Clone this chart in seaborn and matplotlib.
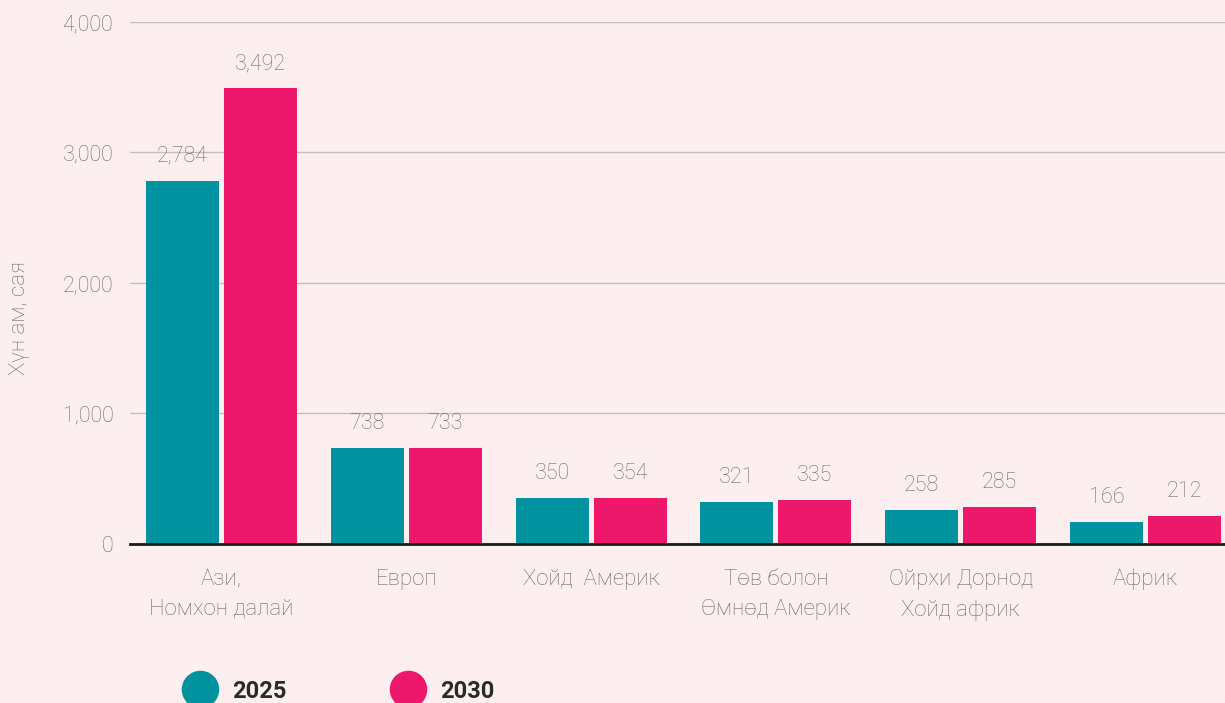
import matplotlib
matplotlib.use("Agg")
import matplotlib.pyplot as plt
import seaborn as sns
import pandas as pd
from matplotlib.lines import Line2D

categories = ["Ази,\nНомхон далай", "Европ", "Хойд  Америк",
              "Төв болон\nӨмнөд Америк", "Ойрхи Дорнод\nХойд африк", "Африк"]
values_2025 = [2784, 738, 350, 321, 258, 166]
values_2030 = [3492, 733, 354, 335, 285, 212]
years = ["2025", "2030"]
yticks = [0, 1000, 2000, 3000, 4000]

bg = "#fdeff0"
teal = "#00929f"
pink = "#ed176b"
gray = "#6c6c6c"

sns.set_theme(style="white")
plt.rcParams['font.family'] = ['Roboto', 'DejaVu Sans']

df = pd.DataFrame({
    "region": categories * 2,
    "year": [years[0]] * len(categories) + [years[1]] * len(categories),
    "value": values_2025 + values_2030,
})

fig = plt.figure(figsize=(12.25, 7.03), dpi=100, facecolor=bg)
ax = fig.add_axes([0.1061, 0.2262, 0.8939, 0.7425])
ax.set_facecolor(bg)

sns.barplot(data=df, x="region", y="value", hue="year", order=categories,
            hue_order=years, palette=[teal, pink], width=0.844, gap=0.064,
            saturation=1, legend=False, ax=ax, linewidth=0)

for cont in ax.containers:
    ax.bar_label(cont, labels=[f"{v:,.0f}" for v in cont.datavalues],
                 padding=10, fontsize=15.5, color=gray, fontweight='light')

ax.set_ylim(0, 4000)
ax.set_xlim(-0.495, 5.43)
ax.set_yticks(yticks)
ax.set_yticklabels([f"{v:,}" for v in yticks], fontsize=15.5, color=gray, fontweight='light')
ax.tick_params(axis='y', length=0, pad=12)
ax.tick_params(axis='x', length=0, pad=18, labelsize=16, labelcolor=gray)
for lab in ax.get_xticklabels():
    lab.set_fontweight('light')
    lab.set_linespacing(1.55)
ax.grid(axis='y', color="#c4bcbe", linewidth=1)
ax.set_axisbelow(True)
for s in ["left", "right", "top"]:
    ax.spines[s].set_visible(False)
ax.spines["bottom"].set_color("#1a1a1a")
ax.spines["bottom"].set_linewidth(2)
ax.set_xlabel("")
ax.set_ylabel("Хүн ам, сая", fontsize=16, color=gray, fontweight='light')
ax.yaxis.set_label_coords(-0.091, 0.433)

handles = [Line2D([], [], marker='o', linestyle='', markersize=26, color=c) for c in [teal, pink]]
fig.legend(handles, years, loc='center left', bbox_to_anchor=(0.1266, 0.017), ncol=2,
           frameon=False, handletextpad=0.35, columnspacing=4.15,
           prop={'size': 17, 'weight': 'bold'}, labelcolor="#2a2a2a")

fig.savefig("out.png", dpi=100, facecolor=bg)
